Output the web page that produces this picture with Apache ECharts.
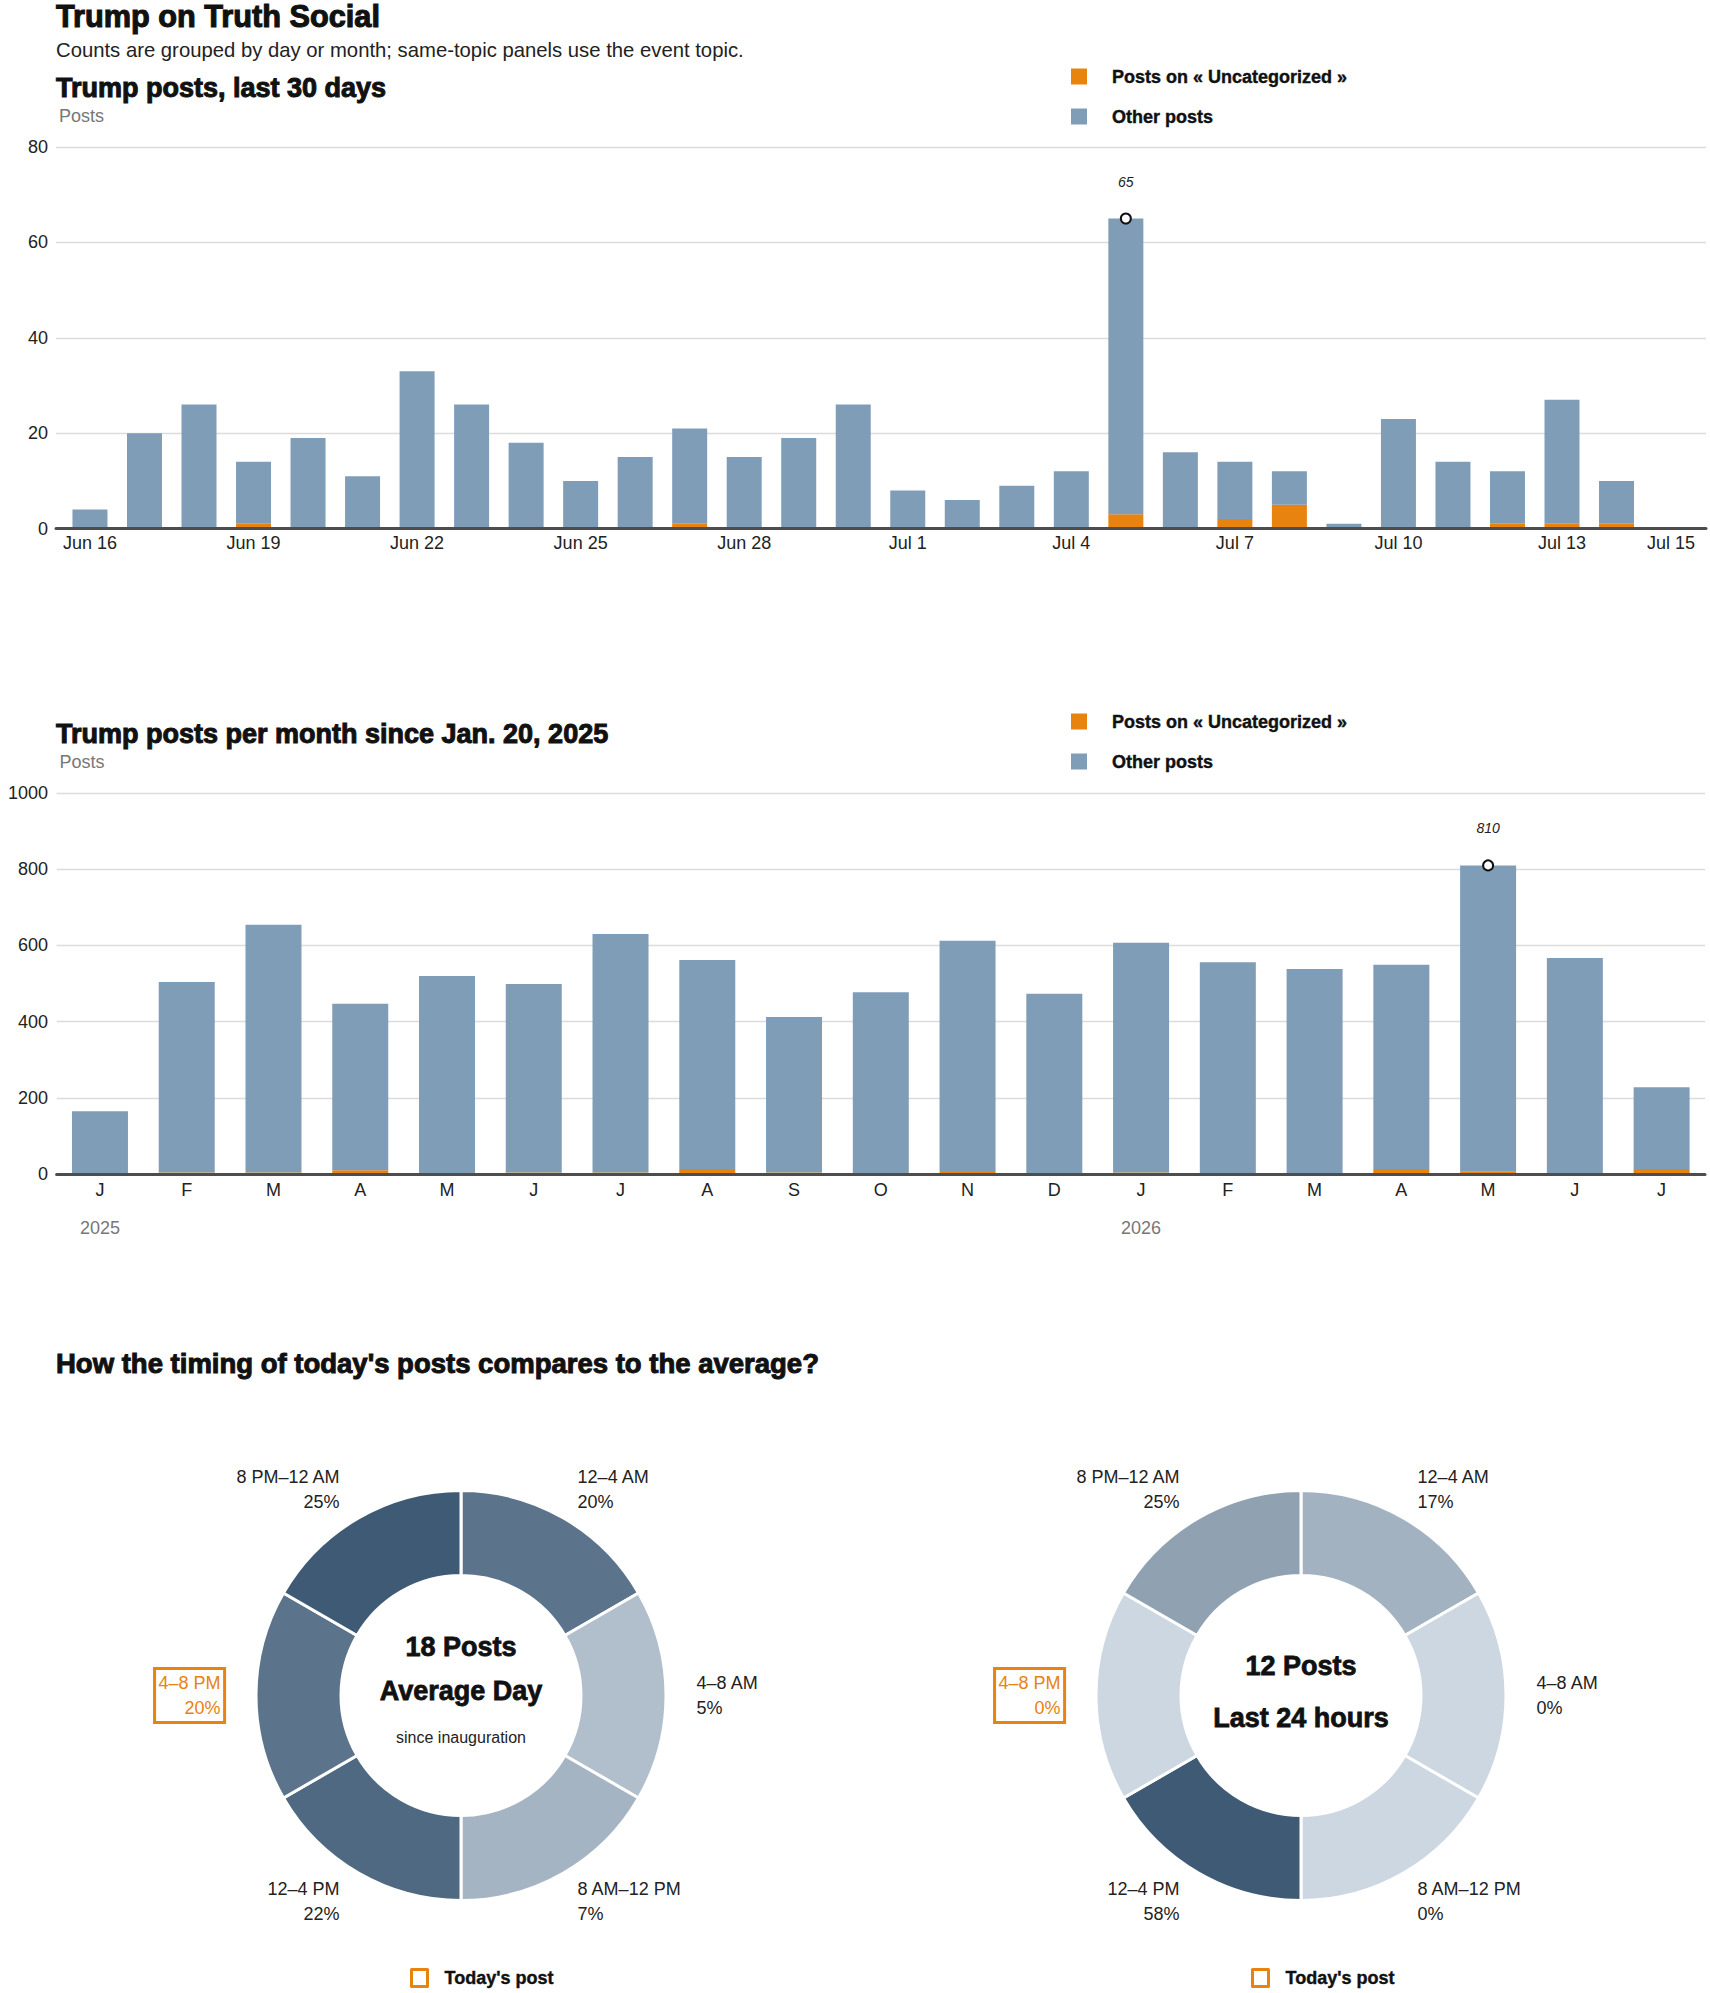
<!DOCTYPE html>
<html>
<head>
<meta charset="utf-8">
<title>Trump on Truth Social</title>
<script src="https://cdn.jsdelivr.net/npm/echarts@6/dist/echarts.min.js"></script>
<style>
  html, body { margin: 0; padding: 0; background: #fff; }
  #chart { width: 1710px; height: 1993px; }
</style>
</head>
<body>
<div id="chart"></div>
<script>
// last 30 days
const days = ['Jun 16', 'Jun 17', 'Jun 18', 'Jun 19', 'Jun 20', 'Jun 21', 'Jun 22', 'Jun 23', 'Jun 24', 'Jun 25',
  'Jun 26', 'Jun 27', 'Jun 28', 'Jun 29', 'Jun 30', 'Jul 1', 'Jul 2', 'Jul 3', 'Jul 4', 'Jul 5',
  'Jul 6', 'Jul 7', 'Jul 8', 'Jul 9', 'Jul 10', 'Jul 11', 'Jul 12', 'Jul 13', 'Jul 14', 'Jul 15']
const dayLabels = ['Jun 16', 'Jun 19', 'Jun 22', 'Jun 25', 'Jun 28', 'Jul 1', 'Jul 4', 'Jul 7', 'Jul 10', 'Jul 13', 'Jul 15']
const dayTopic = [0, 0, 0, 1, 0, 0, 0, 0, 0, 0, 0, 1, 0, 0, 0, 0, 0, 0, 0, 3, 0, 2, 5, 0, 0, 0, 1, 1, 1, 0]
const dayOther = [4, 20, 26, 13, 19, 11, 33, 26, 18, 10, 15, 20, 15, 19, 26, 8, 6, 9, 12, 62, 16, 12, 7, 1, 23, 14, 11, 26, 9, 0]

// per month since inauguration
const months = ['2025-01', '2025-02', '2025-03', '2025-04', '2025-05', '2025-06', '2025-07', '2025-08', '2025-09', '2025-10',
  '2025-11', '2025-12', '2026-01', '2026-02', '2026-03', '2026-04', '2026-05', '2026-06', '2026-07']
const monthInitials = ['J', 'F', 'M', 'A', 'M', 'J', 'J', 'A', 'S', 'O', 'N', 'D', 'J', 'F', 'M', 'A', 'M', 'J', 'J']
const monthTopic = [0, 4, 4, 10, 0, 4, 4, 13, 4, 0, 5, 0, 4, 0, 0, 13, 6, 0, 13]
const monthOther = [165, 500, 650, 437, 520, 495, 626, 549, 408, 477, 607, 473, 603, 556, 538, 536, 804, 567, 215]

// timing donuts
const slots = ['12–4 AM', '4–8 AM', '8 AM–12 PM', '12–4 PM', '4–8 PM', '8 PM–12 AM']
const avgShare = [20, 5, 7, 22, 20, 25]
const todayShare = [17, 0, 0, 58, 0, 25]
const avgPosts = 18
const todayPosts = 12
const todaySlot = '4–8 PM'

const TOPIC = 'Posts on « Uncategorized »'
const OTHER = 'Other posts'
const TODAY = "Today's post"
const ORANGE = '#e8830f'
const BLUE = '#809db8'
const FONT = '"Liberation Sans", Arial, sans-serif'

const chart = echarts.init(document.getElementById('chart'), null, { renderer: 'svg' })

function totalsOf(a, b) {
  return a.map((v, i) => v + b[i])
}
function peakOf(list) {
  let k = 0
  list.forEach((v, i) => { if (v > list[k]) k = i })
  return k
}
const dayTotal = totalsOf(dayTopic, dayOther)
const monthTotal = totalsOf(monthTopic, monthOther)
const dayPeak = peakOf(dayTotal)
const monthPeak = peakOf(monthTotal)

// heavy = stroke the glyphs a little, the original titles use a black weight
function text(x, y, str, size, weight, color, align, heavy) {
  const fill = color || '#111'
  return {
    type: 'text', x: x, y: y, silent: true,
    style: {
      text: str, fill: fill,
      font: (weight || 'normal') + ' ' + size + 'px ' + FONT,
      align: align || 'left', verticalAlign: 'middle',
      textAlign: align || 'left', textVerticalAlign: 'middle',
      stroke: heavy ? fill : null, lineWidth: heavy || 0
    }
  }
}

function peakMark(cat, value) {
  return {
    symbol: 'circle', symbolSize: 10, silent: true,
    itemStyle: { color: '#fff', borderColor: '#111', borderWidth: 2 },
    label: {
      show: true, position: 'top', distance: 24, formatter: '{c}',
      fontStyle: 'italic', fontSize: 14, color: '#222', fontFamily: FONT
    },
    data: [{ coord: [cat, value], value: value }]
  }
}

function barLegend(top) {
  return {
    data: [TOPIC, OTHER], orient: 'vertical', left: 1071, top: top, padding: 0,
    icon: 'rect', itemWidth: 16, itemHeight: 16, itemGap: 20, selectedMode: false,
    textStyle: {
      fontFamily: FONT, fontSize: 18, fontWeight: 'bold', color: '#111', lineHeight: 20,
      padding: [0, 0, 0, 20], textBorderColor: '#111', textBorderWidth: 0.4
    }
  }
}

function todayLegend(left) {
  return {
    data: [{ name: TODAY, icon: 'rect', itemStyle: { color: '#fff', borderColor: ORANGE, borderWidth: 3 } }],
    left: left, top: 1968, padding: 0, itemWidth: 16, itemHeight: 17, selectedMode: false,
    textStyle: {
      fontFamily: FONT, fontSize: 18, fontWeight: 'bold', color: '#111', lineHeight: 20,
      padding: [0, 0, 0, 12], textBorderColor: '#111', textBorderWidth: 0.4
    }
  }
}

function donut(cx, share) {
  const max = Math.max.apply(null, share)
  const hi = slots.indexOf(todaySlot)
  return {
    type: 'pie', center: [cx, 1695.5], radius: [120, 205], startAngle: 90, clockwise: true,
    avoidLabelOverlap: false, silent: true,
    itemStyle: { borderColor: '#fff', borderWidth: 3 },
    label: {
      show: true, position: 'outside', fontFamily: FONT, fontSize: 18, lineHeight: 25, color: '#222',
      distanceToLabelLine: 0,
      formatter: p => p.name + '\n' + p.data.share + '%'
    },
    labelLine: { show: false, length: 33, length2: 0 },
    // the boxed label sticks out of the text column a bit
    labelLayout: p => ({ dx: p.dataIndex === hi ? 1.6 : -2.4 }),
    data: slots.map((s, i) => ({
      name: s, value: 1, share: share[i],
      itemStyle: { color: echarts.color.lerp(share[i] / max, ['#cdd7e1', '#3f5a75']) },
      label: i === hi
        ? { color: ORANGE, borderColor: ORANGE, borderWidth: 3, padding: [3, 4, 1, 4] }
        : {}
    }))
  }
}

const axisText = { fontFamily: FONT, fontSize: 18, color: '#222' }
const nameText = { fontFamily: FONT, fontSize: 18, color: '#777', align: 'left', verticalAlign: 'middle', padding: [0, 0, 0, 3] }

const option = {
  animation: false,
  backgroundColor: '#fff',
  color: [ORANGE, BLUE],
  legend: [barLegend(66.5), barLegend(711.5), todayLegend(410), todayLegend(1251)],
  grid: [
    { left: 56, right: 4, top: 147, height: 381.6 },
    { left: 62.7, width: 1635.6, top: 147, height: 381.6 },
    { left: 56.6, width: 1648.4, top: 793, height: 381 }
  ],
  xAxis: [
    {
      gridIndex: 0, type: 'value', min: 0, max: 1, z: 5,
      axisLine: { show: true, lineStyle: { color: '#4d4d4d', width: 3 } },
      axisTick: { show: false }, axisLabel: { show: false }, splitLine: { show: false }
    },
    {
      gridIndex: 1, type: 'category', data: days,
      axisLine: { show: false }, axisTick: { show: false },
      axisLabel: Object.assign({ interval: (i, v) => dayLabels.indexOf(v) >= 0, margin: 5.5 }, axisText)
    },
    {
      gridIndex: 2, type: 'category', data: months, z: 5,
      axisLine: { show: true, lineStyle: { color: '#4d4d4d', width: 3 } }, axisTick: { show: false },
      axisLabel: Object.assign({ interval: 0, margin: 6.5, formatter: (v, i) => monthInitials[i] }, axisText)
    },
    {
      gridIndex: 2, type: 'category', data: months, position: 'bottom',
      axisLine: { show: false }, axisTick: { show: false },
      axisLabel: Object.assign({}, axisText, {
        interval: 0, margin: 44.5, color: '#777',
        formatter: v => (v.slice(5) === '01' ? v.slice(0, 4) : '')
      })
    }
  ],
  yAxis: [
    {
      gridIndex: 0, type: 'value', min: 0, max: 80, interval: 20,
      name: 'Posts', nameLocation: 'end', nameGap: 31, nameTextStyle: nameText,
      axisLine: { show: false }, axisTick: { show: false },
      axisLabel: Object.assign({ margin: 8, formatter: v => String(v) }, axisText),
      splitLine: { lineStyle: { color: '#dcdcdc', width: 1.3 } }
    },
    { gridIndex: 1, type: 'value', min: 0, max: 80, interval: 20, show: false },
    {
      gridIndex: 2, type: 'value', min: 0, max: 1000, interval: 200,
      name: 'Posts', nameLocation: 'end', nameGap: 31, nameTextStyle: nameText,
      axisLine: { show: false }, axisTick: { show: false },
      axisLabel: Object.assign({ margin: 8.6, formatter: v => String(v) }, axisText),
      splitLine: { lineStyle: { color: '#dcdcdc', width: 1.3 } }
    }
  ],
  series: [
    {
      name: TOPIC, type: 'bar', xAxisIndex: 1, yAxisIndex: 1, stack: 'day', barWidth: 35,
      itemStyle: { color: ORANGE }, data: dayTopic
    },
    {
      name: OTHER, type: 'bar', xAxisIndex: 1, yAxisIndex: 1, stack: 'day', barWidth: 35,
      itemStyle: { color: BLUE }, data: dayOther,
      markPoint: peakMark(days[dayPeak], dayTotal[dayPeak])
    },
    {
      name: TOPIC, type: 'bar', xAxisIndex: 2, yAxisIndex: 2, stack: 'month', barWidth: 56,
      itemStyle: { color: ORANGE }, data: monthTopic
    },
    {
      name: OTHER, type: 'bar', xAxisIndex: 2, yAxisIndex: 2, stack: 'month', barWidth: 56,
      itemStyle: { color: BLUE }, data: monthOther,
      markPoint: peakMark(months[monthPeak], monthTotal[monthPeak])
    },
    donut(461, avgShare),
    donut(1301, todayShare),
    // only feeds the "Today's post" legend entries
    { name: TODAY, type: 'pie', data: [], showEmptyCircle: false }
  ],
  graphic: [
    text(56, 16, 'Trump on Truth Social', 30.7, 'bold', '#111', 'left', 1.1),
    text(56, 50, 'Counts are grouped by day or month; same-topic panels use the event topic.', 20.3, 'normal', '#222'),
    text(56, 87.5, 'Trump posts, last 30 days', 27, 'bold', '#111', 'left', 1),
    text(56, 733.6, 'Trump posts per month since Jan. 20, 2025', 27, 'bold', '#111', 'left', 1),
    text(56, 1363, "How the timing of today's posts compares to the average?", 27.5, 'bold', '#111', 'left', 1),
    text(461, 1647, avgPosts + ' Posts', 27, 'bold', '#111', 'center', 0.8),
    text(461, 1691, 'Average Day', 27, 'bold', '#111', 'center', 0.8),
    text(461, 1737, 'since inauguration', 16, 'normal', '#222', 'center'),
    text(1301, 1665.5, todayPosts + ' Posts', 27, 'bold', '#111', 'center', 0.8),
    text(1301, 1718, 'Last 24 hours', 27, 'bold', '#111', 'center', 0.8)
  ]
}

chart.setOption(option)
</script>
</body>
</html>
